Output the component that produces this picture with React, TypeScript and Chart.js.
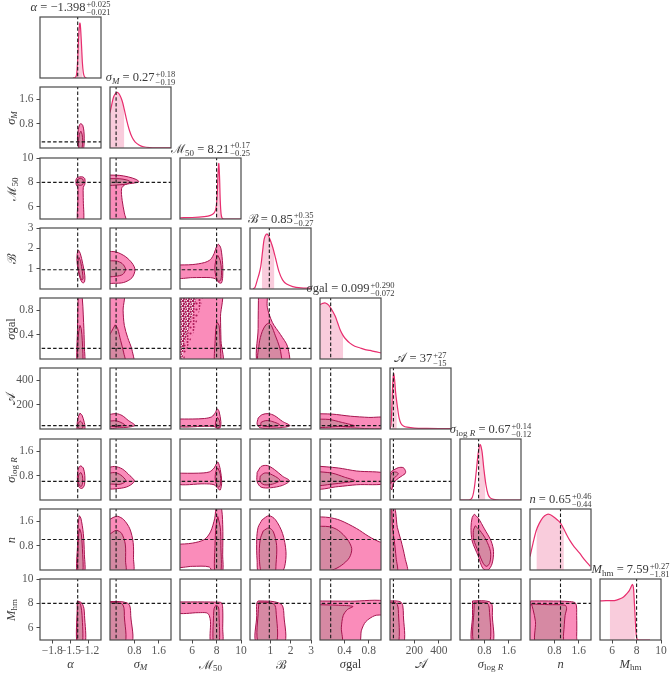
import React, { useEffect, useRef } from 'react';
import { Chart, registerables } from 'chart.js';

Chart.register(...registerables);

type Pt = [number, number];

const FONT = "'Liberation Serif', 'DejaVu Serif', serif";
const FRAME = '#4a4a4a';
const TICK_COLOR = '#555555';
const TEXT = '#3a3a3a';
const OUTER_FILL = 'rgb(250,140,186)';
const INNER_FILL = 'rgb(214,137,163)';
const CONTOUR_LINE = 'rgb(165,20,78)';
const HIST_LINE = 'rgb(232,45,110)';
const HIST_FILL = 'rgb(249,204,220)';
const TRUTH_COLOR = '#1a1a1a';
const DOT_COLOR = 'rgb(172,28,88)';

// parameter order: alpha, sigma_M, M50, B, sigma_gal, A, sigma_logR, n, M_hm
const RANGES: number[][] = [[-2, -1], [0, 2], [5, 10], [0, 3], [0, 1], [0, 500], [0, 2], [0, 2], [5, 10]];
const TRUTHS = [-1.382, 0.2, 8.0, 0.95, 0.175, 28, 0.61, 1.0, 8.0];
const TICK_VALUES = [[-1.8, -1.5, -1.2], [0.8, 1.6], [6, 8, 10], [1, 2, 3], [0.4, 0.8], [200, 400], [0.8, 1.6], [0.8, 1.6], [6, 8, 10]];
const TICK_LABELS = [['−1.8', '−1.5', '−1.2'], ['0.8', '1.6'], ['6', '8', '10'], ['1', '2', '3'], ['0.4', '0.8'], ['200', '400'], ['0.8', '1.6'], ['0.8', '1.6'], ['6', '8', '10']];
const TITLE_VALUES = ['−1.398', '0.27', '8.21', '0.85', '0.099', '37', '0.67', '0.65', '7.59'];
const TITLE_PLUS = ['+0.025', '+0.18', '+0.17', '+0.35', '+0.290', '+27', '+0.14', '+0.46', '+0.27'];
const TITLE_MINUS = ['−0.021', '−0.19', '−0.25', '−0.27', '−0.072', '−15', '−0.12', '−0.44', '−1.81'];

// 1D marginal curves (normalised height) and shaded credible regions
const DIAG_CURVES: Pt[][] = [
  [[-1.46, 0], [-1.42, 0.01], [-1.40, 0.06], [-1.385, 0.25], [-1.37, 0.6], [-1.355, 0.85], [-1.345, 0.9], [-1.335, 0.82], [-1.32, 0.55], [-1.305, 0.25], [-1.29, 0.09], [-1.275, 0.03], [-1.26, 0.01], [-1.24, 0]],
  [[0, 0.58], [0.06, 0.72], [0.12, 0.84], [0.19, 0.9], [0.25, 0.91], [0.32, 0.87], [0.4, 0.77], [0.47, 0.63], [0.55, 0.45], [0.63, 0.3], [0.72, 0.18], [0.82, 0.1], [0.95, 0.05], [1.1, 0.02], [1.3, 0.008], [1.6, 0.004], [2.0, 0.003]],
  [[5, 0.02], [6, 0.025], [7, 0.04], [7.5, 0.06], [7.8, 0.1], [7.95, 0.18], [8.05, 0.4], [8.12, 0.75], [8.18, 0.91], [8.24, 0.7], [8.3, 0.3], [8.37, 0.08], [8.45, 0.015], [8.6, 0], [10, 0]],
  [[0.15, 0], [0.25, 0.03], [0.36, 0.15], [0.45, 0.25], [0.53, 0.37], [0.62, 0.62], [0.7, 0.82], [0.8, 0.9], [0.88, 0.89], [1.0, 0.8], [1.12, 0.68], [1.26, 0.5], [1.43, 0.28], [1.6, 0.15], [1.8, 0.08], [2.1, 0.04], [2.5, 0.02], [3.0, 0.01]],
  [[0, 0.89], [0.04, 0.91], [0.08, 0.92], [0.12, 0.9], [0.16, 0.86], [0.21, 0.78], [0.25, 0.7], [0.29, 0.59], [0.33, 0.48], [0.37, 0.4], [0.41, 0.34], [0.49, 0.26], [0.57, 0.21], [0.66, 0.18], [0.74, 0.155], [0.82, 0.14], [0.9, 0.12], [1.0, 0.1]],
  [[0, 0], [8, 0.06], [15, 0.35], [22, 0.72], [30, 0.91], [38, 0.8], [46, 0.6], [55, 0.45], [65, 0.3], [75, 0.18], [90, 0.09], [110, 0.05], [140, 0.03], [200, 0.015], [300, 0.01], [500, 0.005]],
  [[0, 0], [0.3, 0], [0.4, 0.04], [0.47, 0.2], [0.54, 0.5], [0.6, 0.78], [0.66, 0.91], [0.72, 0.8], [0.78, 0.52], [0.85, 0.25], [0.92, 0.09], [1.0, 0.03], [1.1, 0.01], [1.3, 0], [2.0, 0]],
  [[0, 0.22], [0.1, 0.44], [0.2, 0.64], [0.3, 0.76], [0.42, 0.86], [0.55, 0.91], [0.65, 0.91], [0.78, 0.87], [0.9, 0.82], [1.0, 0.77], [1.1, 0.68], [1.18, 0.6], [1.3, 0.49], [1.45, 0.38], [1.62, 0.28], [1.8, 0.16], [1.98, 0.06]],
  [[5, 0.64], [5.5, 0.645], [6.0, 0.645], [6.35, 0.655], [6.7, 0.68], [6.95, 0.71], [7.2, 0.76], [7.4, 0.81], [7.57, 0.88], [7.66, 0.91], [7.74, 0.86], [7.82, 0.6], [7.9, 0.3], [7.97, 0.08], [8.05, 0.01], [8.2, 0], [9.1, 0]],
];
const DIAG_SHADES: Pt[][] = [
  [[-1.40, 0.06], [-1.385, 0.25], [-1.37, 0.6], [-1.355, 0.85], [-1.345, 0.9], [-1.335, 0.82], [-1.32, 0.55], [-1.30, 0.2]],
  [[0, 0.58], [0.06, 0.72], [0.12, 0.84], [0.19, 0.9], [0.25, 0.91], [0.32, 0.87], [0.4, 0.77], [0.47, 0.63]],
  [[7.96, 0.19], [8.05, 0.4], [8.12, 0.75], [8.18, 0.91], [8.24, 0.7], [8.3, 0.3], [8.38, 0.06]],
  [[0.58, 0.5], [0.62, 0.62], [0.7, 0.82], [0.8, 0.9], [0.88, 0.89], [1.0, 0.8], [1.12, 0.68], [1.2, 0.57]],
  [[0, 0.89], [0.04, 0.91], [0.08, 0.92], [0.12, 0.9], [0.16, 0.86], [0.21, 0.78], [0.25, 0.7], [0.29, 0.59], [0.33, 0.48], [0.38, 0.39]],
  [[15, 0.35], [22, 0.72], [30, 0.91], [38, 0.8], [46, 0.6], [56, 0.43]],
  [[0.6, 0.78], [0.66, 0.91], [0.72, 0.8], [0.78, 0.52], [0.83, 0.33]],
  [[0.21, 0.65], [0.3, 0.76], [0.42, 0.86], [0.55, 0.91], [0.65, 0.91], [0.78, 0.87], [0.9, 0.82], [1.0, 0.77], [1.11, 0.67]],
  [[5.8, 0.645], [6.0, 0.645], [6.35, 0.655], [6.7, 0.68], [6.95, 0.71], [7.2, 0.76], [7.4, 0.81], [7.57, 0.88], [7.66, 0.91], [7.74, 0.86], [7.82, 0.6], [7.86, 0.45]],
];

// 2D contours (outer = 2 sigma, inner = 1 sigma), one entry per column of each row
type Contour = { outer: Pt[]; inner: Pt[] };
const ROW1_CONTOURS: Contour[] = [
  { outer: [[-1.33, 0.8], [-1.30, 0.75], [-1.28, 0.55], [-1.275, 0.3], [-1.28, 0.05], [-1.30, -0.1], [-1.34, -0.1], [-1.37, 0.05], [-1.387, 0.3], [-1.372, 0.6], [-1.35, 0.77]],
    inner: [[-1.33, 0.55], [-1.31, 0.45], [-1.30, 0.25], [-1.31, 0.0], [-1.33, -0.1], [-1.36, 0.0], [-1.368, 0.2], [-1.355, 0.45]] },
];
const ROW2_CONTOURS: Contour[] = [
  { outer: [[-1.35, 8.45], [-1.30, 8.45], [-1.265, 8.3], [-1.265, 7.85], [-1.29, 7.6], [-1.29, 6.5], [-1.29, 4.7], [-1.38, 4.7], [-1.38, 6.5], [-1.38, 7.6], [-1.405, 7.8], [-1.41, 8.2], [-1.39, 8.4]],
    inner: [[-1.34, 8.33], [-1.30, 8.27], [-1.29, 8.05], [-1.30, 7.82], [-1.34, 7.76], [-1.38, 7.82], [-1.39, 8.05], [-1.375, 8.27]] },
  { outer: [[-0.1, 8.6], [0.3, 8.58], [0.6, 8.45], [0.85, 8.25], [0.95, 8.05], [0.8, 7.95], [0.5, 7.82], [0.38, 7.5], [0.4, 6.5], [0.47, 5.5], [0.52, 4.7], [-0.1, 4.7]],
    inner: [[-0.1, 8.3], [0.3, 8.3], [0.55, 8.2], [0.66, 8.05], [0.55, 7.87], [0.3, 7.8], [-0.1, 7.8]] },
];
const ROW3_CONTOURS: Contour[] = [
  { outer: [[-1.37, 1.92], [-1.34, 1.75], [-1.30, 1.25], [-1.265, 0.65], [-1.27, 0.35], [-1.30, 0.3], [-1.34, 0.5], [-1.38, 1.0], [-1.395, 1.5], [-1.385, 1.82]],
    inner: [[-1.36, 1.55], [-1.335, 1.35], [-1.305, 0.85], [-1.295, 0.5], [-1.315, 0.45], [-1.35, 0.7], [-1.375, 1.1], [-1.375, 1.42]] },
  { outer: [[-0.1, 1.85], [0.2, 1.82], [0.5, 1.6], [0.72, 1.28], [0.82, 0.95], [0.72, 0.55], [0.45, 0.32], [0.1, 0.28], [-0.1, 0.3]],
    inner: [[-0.1, 1.38], [0.2, 1.38], [0.4, 1.25], [0.51, 0.98], [0.42, 0.72], [0.2, 0.63], [-0.1, 0.65]] },
  { outer: [[4.7, 1.18], [6, 1.2], [7, 1.3], [7.5, 1.45], [7.8, 1.75], [8.0, 2.1], [8.15, 2.2], [8.35, 2.0], [8.5, 1.2], [8.5, 0.6], [8.4, 0.3], [8.2, 0.31], [7.9, 0.5], [7.5, 0.56], [6, 0.56], [4.7, 0.56]],
    inner: [[8.1, 1.65], [8.3, 1.4], [8.4, 0.9], [8.35, 0.45], [8.15, 0.38], [7.95, 0.6], [7.85, 1.0], [7.95, 1.45]] },
];
const ROW4_CONTOURS: Contour[] = [
  { outer: [[-1.37, 1.1], [-1.32, 1.1], [-1.285, 0.6], [-1.273, 0.2], [-1.273, -0.1], [-1.385, -0.1], [-1.385, 0.5], [-1.378, 0.9]],
    inner: [[-1.345, 0.55], [-1.325, 0.5], [-1.307, 0.3], [-1.303, -0.1], [-1.38, -0.1], [-1.38, 0.25], [-1.365, 0.45]] },
  { outer: [[-0.1, 1.1], [0.45, 1.1], [0.43, 0.8], [0.47, 0.55], [0.58, 0.35], [0.72, 0.15], [0.76, -0.1], [-0.1, -0.1]],
    inner: [[0.17, 0.56], [0.25, 0.5], [0.35, 0.3], [0.45, 0.1], [0.5, -0.1], [-0.1, -0.1], [-0.1, 0.3], [0.05, 0.45]] },
  { outer: [[4.7, 1.1], [8.33, 1.1], [8.32, 0.7], [8.36, 0.3], [8.4, -0.1], [4.7, -0.1]],
    inner: [[8.05, 0.6], [8.2, 0.55], [8.28, 0.3], [8.3, -0.1], [7.85, -0.1], [7.88, 0.3], [7.95, 0.52]] },
  { outer: [[0.42, 1.1], [0.82, 1.1], [0.85, 0.85], [1.1, 0.6], [1.5, 0.4], [1.85, 0.2], [1.88, -0.1], [0.42, -0.1], [0.40, 0.5]],
    inner: [[0.93, 0.59], [1.05, 0.55], [1.25, 0.38], [1.45, 0.2], [1.54, 0.05], [1.55, -0.1], [0.44, -0.1], [0.45, 0.25], [0.6, 0.45], [0.78, 0.56]] },
];
const ROW5_CONTOURS: Contour[] = [
  { outer: [[-1.345, 130], [-1.31, 112], [-1.275, 55], [-1.262, 20], [-1.275, -10], [-1.385, -10], [-1.392, 30], [-1.378, 90]],
    inner: [[-1.34, 65], [-1.31, 52], [-1.295, 25], [-1.305, 5], [-1.36, 3], [-1.385, 25], [-1.37, 50]] },
  { outer: [[-0.1, 115], [0.2, 126], [0.4, 110], [0.6, 70], [0.82, 30], [0.6, 15], [0.3, 10], [-0.1, 10]],
    inner: [[-0.1, 62], [0.15, 68], [0.3, 60], [0.49, 32], [0.3, 22], [0.1, 20], [-0.1, 22]] },
  { outer: [[4.7, 82], [6, 82], [7, 86], [7.6, 100], [7.9, 135], [8.05, 165], [8.2, 145], [8.35, 60], [8.3, 12], [8.1, 3], [7.8, 20], [7, 22], [4.7, 22]],
    inner: [[8.08, 95], [8.22, 70], [8.28, 30], [8.2, 10], [8.0, 10], [7.9, 30], [7.95, 70]] },
  { outer: [[0.4, 90], [0.6, 118], [0.9, 126], [1.2, 110], [1.6, 62], [1.96, 28], [1.6, 12], [1.0, 6], [0.5, 10], [0.35, 40]],
    inner: [[0.55, 55], [0.75, 68], [1.0, 66], [1.46, 35], [1.1, 22], [0.7, 22], [0.53, 35]] },
  { outer: [[-0.1, 125], [0.2, 122], [0.5, 105], [0.8, 95], [1.1, 90], [1.1, 10], [0.5, 8], [-0.1, 5]],
    inner: [[-0.1, 80], [0.15, 78], [0.35, 55], [0.57, 25], [0.3, 20], [-0.1, 18]] },
];
const ROW6_CONTOURS: Contour[] = [
  { outer: [[-1.33, 1.12], [-1.29, 1.05], [-1.265, 0.8], [-1.27, 0.5], [-1.31, 0.38], [-1.36, 0.42], [-1.385, 0.6], [-1.383, 0.9], [-1.36, 1.08]],
    inner: [[-1.33, 0.9], [-1.305, 0.8], [-1.30, 0.6], [-1.32, 0.45], [-1.355, 0.48], [-1.375, 0.65], [-1.36, 0.85]] },
  { outer: [[-0.1, 1.05], [0.15, 1.1], [0.4, 1.02], [0.65, 0.8], [0.8, 0.62], [0.6, 0.45], [0.3, 0.38], [-0.1, 0.4]],
    inner: [[-0.1, 0.86], [0.15, 0.9], [0.35, 0.82], [0.52, 0.63], [0.35, 0.52], [0.1, 0.52], [-0.1, 0.55]] },
  { outer: [[4.7, 0.88], [6.5, 0.88], [7.4, 0.92], [7.8, 1.05], [8.0, 1.2], [8.12, 1.24], [8.3, 1.0], [8.42, 0.6], [8.3, 0.33], [8.1, 0.38], [7.8, 0.5], [7, 0.53], [4.7, 0.53]],
    inner: [[8.1, 1.05], [8.3, 0.85], [8.33, 0.55], [8.2, 0.42], [8.0, 0.5], [7.88, 0.72], [7.95, 0.95]] },
  { outer: [[0.35, 0.9], [0.55, 1.1], [0.85, 1.13], [1.2, 1.0], [1.6, 0.78], [1.94, 0.63], [1.6, 0.48], [1.0, 0.4], [0.55, 0.42], [0.35, 0.6]],
    inner: [[0.5, 0.78], [0.7, 0.88], [0.95, 0.87], [1.47, 0.65], [1.1, 0.52], [0.7, 0.5], [0.5, 0.6]] },
  { outer: [[-0.1, 1.12], [0.3, 1.05], [0.6, 0.95], [1.1, 0.86], [1.1, 0.55], [0.6, 0.5], [0.3, 0.44], [-0.1, 0.39]],
    inner: [[-0.1, 0.94], [0.2, 0.88], [0.4, 0.75], [0.57, 0.63], [0.4, 0.57], [0.2, 0.52], [-0.1, 0.5]] },
  { outer: [[14, 0.33], [33, 0.58], [82, 0.75], [123, 0.86], [128, 0.94], [109, 1.06], [68, 1.06], [33, 0.99], [5, 0.91], [-10, 0.7], [-5, 0.45]],
    inner: [[5, 0.53], [22, 0.66], [55, 0.8], [68, 0.86], [55, 0.91], [22, 0.91], [5, 0.8]] },
];
const ROW7_CONTOURS: Contour[] = [
  { outer: [[-1.355, 1.78], [-1.33, 1.7], [-1.29, 1.2], [-1.272, 0.5], [-1.272, -0.1], [-1.39, -0.1], [-1.385, 0.8], [-1.375, 1.5]],
    inner: [[-1.35, 1.35], [-1.325, 1.2], [-1.305, 0.7], [-1.30, -0.1], [-1.375, -0.1], [-1.375, 0.8], [-1.365, 1.2]] },
  { outer: [[-0.1, 1.6], [0.1, 1.72], [0.25, 1.76], [0.45, 1.65], [0.65, 1.35], [0.76, 0.9], [0.77, 0.4], [0.74, -0.1], [-0.1, -0.1]],
    inner: [[-0.1, 1.1], [0.1, 1.25], [0.22, 1.3], [0.38, 1.2], [0.5, 0.85], [0.51, 0.3], [0.5, -0.1], [-0.1, -0.1]] },
  { outer: [[4.7, 0.84], [6, 0.88], [7, 1.0], [7.5, 1.25], [7.85, 1.7], [8.0, 2.1], [8.35, 2.1], [8.5, 1.5], [8.5, 0.5], [8.45, -0.1], [7.7, -0.1], [7.4, 0.1], [6, 0.12], [4.7, 0.12]],
    inner: [[8.1, 1.75], [8.3, 1.4], [8.35, 0.8], [8.33, -0.1], [7.87, -0.1], [7.87, 0.8], [7.95, 1.45]] },
  { outer: [[0.6, 1.65], [0.93, 1.78], [1.25, 1.65], [1.6, 1.2], [1.77, 0.6], [1.7, 0.1], [1.5, -0.1], [0.45, -0.1], [0.35, 0.3], [0.33, 1.0], [0.4, 1.4]],
    inner: [[0.65, 1.28], [0.93, 1.38], [1.15, 1.25], [1.31, 0.8], [1.28, 0.2], [1.2, -0.1], [0.6, -0.1], [0.46, 0.4], [0.5, 1.0]] },
  { outer: [[-0.1, 1.75], [0.15, 1.72], [0.33, 1.63], [0.6, 1.36], [0.8, 1.1], [0.98, 0.92], [1.1, 0.88], [1.1, -0.1], [-0.1, -0.1]],
    inner: [[-0.1, 1.43], [0.15, 1.42], [0.3, 1.3], [0.45, 1.0], [0.52, 0.7], [0.48, 0.4], [0.35, 0.15], [0.2, 0.0], [-0.1, -0.1]] },
  { outer: [[-10, 2.1], [35, 2.1], [60, 1.4], [90, 0.97], [123, 0.4], [140, -0.1], [-10, -0.1]],
    inner: [[-10, 2.1], [10, 2.1], [20, 1.4], [35, 0.97], [50, 0.4], [60, -0.1], [-10, -0.1]] },
  { outer: [[0.47, 1.83], [0.6, 1.7], [0.8, 1.35], [1.02, 0.95], [1.1, 0.6], [1.05, 0.2], [0.92, 0.0], [0.75, 0.05], [0.6, 0.45], [0.4, 0.95], [0.36, 1.4], [0.4, 1.72]],
    inner: [[0.5, 1.45], [0.65, 1.3], [0.85, 1.0], [1.0, 0.6], [0.98, 0.25], [0.88, 0.12], [0.77, 0.2], [0.6, 0.6], [0.45, 1.0], [0.44, 1.3]] },
];
const ROW8_CONTOURS: Contour[] = [
  { outer: [[-1.388, 8.18], [-1.33, 8.1], [-1.30, 7.9], [-1.28, 7.6], [-1.27, 7], [-1.26, 4.7], [-1.39, 4.7], [-1.39, 7.5], [-1.39, 8.1]],
    inner: [[-1.385, 8.1], [-1.35, 8.05], [-1.33, 7.8], [-1.31, 7.0], [-1.305, 4.7], [-1.385, 4.7], [-1.385, 7.8]] },
  { outer: [[-0.1, 8.15], [0.3, 8.15], [0.55, 8.05], [0.65, 7.8], [0.68, 7.0], [0.7, 4.7], [-0.1, 4.7]],
    inner: [[-0.1, 8.05], [0.25, 8.05], [0.4, 7.95], [0.46, 7.6], [0.47, 7.0], [0.48, 4.7], [-0.1, 4.7]] },
  { outer: [[4.7, 8.12], [7, 8.12], [8.0, 8.1], [8.4, 8.05], [8.5, 7.6], [8.5, 6], [8.45, 4.7], [7.55, 4.7], [7.5, 6.5], [7.4, 7.0], [7.2, 7.22], [6.5, 7.24], [4.7, 7.24]],
    inner: [[7.95, 7.85], [8.15, 7.7], [8.2, 7], [8.2, 4.7], [7.75, 4.7], [7.75, 7], [7.8, 7.6]] },
  { outer: [[0.4, 8.2], [1.0, 8.18], [1.4, 8.05], [1.6, 7.8], [1.67, 7.0], [1.67, 4.7], [0.33, 4.7], [0.33, 7.0], [0.33, 8.0]],
    inner: [[0.45, 8.1], [0.9, 8.08], [1.2, 7.9], [1.28, 7.4], [1.28, 4.7], [0.42, 4.7], [0.41, 7.5]] },
  { outer: [[-0.1, 8.2], [0.5, 8.18], [1.1, 8.15], [1.1, 7.15], [0.9, 7.0], [0.75, 6.5], [0.68, 5.8], [0.63, 4.7], [-0.1, 4.7]],
    inner: [[-0.1, 7.9], [0.3, 7.85], [0.54, 7.75], [0.45, 7.5], [0.38, 7.0], [0.35, 6], [0.35, 4.7], [-0.1, 4.7]] },
  { outer: [[-10, 8.2], [50, 8.2], [90, 8.1], [105, 7.8], [110, 7.0], [110, 4.7], [-10, 4.7]],
    inner: [[-10, 8.08], [40, 8.08], [60, 7.9], [68, 7.5], [68, 4.7], [-10, 4.7]] },
  { outer: [[0.41, 8.2], [0.7, 8.22], [0.95, 8.15], [1.05, 7.9], [1.06, 7], [1.06, 4.7], [0.41, 4.7], [0.41, 7.0], [0.41, 8.0]],
    inner: [[0.47, 8.1], [0.7, 8.1], [0.9, 8.0], [0.96, 7.6], [0.96, 4.7], [0.46, 4.7], [0.46, 7.6]] },
  { outer: [[0.02, 8.2], [0.6, 8.2], [1.3, 8.15], [1.5, 8.0], [1.53, 7.0], [1.53, 5.3], [1.5, 4.7], [0.02, 4.7]],
    inner: [[0.05, 7.95], [0.6, 7.9], [1.15, 7.85], [1.2, 7.6], [1.15, 7.0], [1.1, 5.5], [1.05, 4.7], [0.2, 4.7], [0.18, 6.5], [0.1, 7.5]] },
];
// scattered samples outside the outer contour in the (M50, sigma_gal) panel
const DOTS_DENSE: Pt[] = [[4.7, 1.1], [6.3, 1.1], [6.1, 0.8], [5.7, 0.5], [5.3, 0.2], [5.1, -0.1], [4.7, -0.1]];
const DOTS_SPARSE: Pt[] = [[4.7, 1.1], [6.9, 1.1], [6.6, 0.8], [6.3, 0.55], [5.85, 0.3], [5.4, 0.05], [5.3, -0.1], [4.7, -0.1]];

const CONTOURS_BY_ROW: Contour[][] = [[], ROW1_CONTOURS, ROW2_CONTOURS, ROW3_CONTOURS, ROW4_CONTOURS, ROW5_CONTOURS, ROW6_CONTOURS, ROW7_CONTOURS, ROW8_CONTOURS];

const sub = (c: React.ReactNode) => <sub style={{ fontSize: '0.72em', verticalAlign: '-0.3em', lineHeight: 0 }}>{c}</sub>;
const LABELS: React.ReactNode[] = [
  <i>α</i>,
  <><i>σ</i>{sub(<i>M</i>)}</>,
  <>ℳ{sub('50')}</>,
  <>ℬ</>,
  <><i>σ</i>gal</>,
  <>𝒜</>,
  <><i>σ</i>{sub(<>log <i>R</i></>)}</>,
  <i>n</i>,
  <><i>M</i>{sub('hm')}</>,
];

const PANEL = 61;
const colLeft = (j: number) => 40 + 70 * j;
const rowTop = (i: number) => Math.round(17 + 70.25 * i);

const toXY = (pts: Pt[], close = false) => {
  const d = pts.map(([x, y]) => ({ x, y }));
  if (close) d.push({ ...d[0] });
  return d;
};

const framePlugin = {
  id: 'frame',
  afterDatasetsDraw(chart: any) {
    const { ctx, chartArea: a } = chart;
    ctx.save();
    ctx.strokeStyle = FRAME;
    ctx.lineWidth = 1.2;
    ctx.strokeRect(a.left, a.top, a.right - a.left, a.bottom - a.top);
    ctx.restore();
  },
};

function scaleOpts(param: number | null, isX: boolean, showTicks: boolean, size: number) {
  const [min, max] = param === null ? [0, 1] : RANGES[param];
  return {
    type: 'linear', min, max, position: isX ? 'bottom' : 'left',
    grid: { display: showTicks, drawOnChartArea: false, drawTicks: true, tickLength: 3.5, color: FRAME, lineWidth: 1 },
    border: { display: false },
    ticks: {
      display: showTicks, autoSkip: false, maxRotation: 0, minRotation: 0, padding: isX ? 1 : 3,
      color: TICK_COLOR, font: { family: FONT, size: 11.5 },
      callback: (_v: number, idx: number) => (param === null ? '' : TICK_LABELS[param][idx]),
    },
    afterBuildTicks: (s: any) => { s.ticks = (param === null ? [] : TICK_VALUES[param]).map((v) => ({ value: v })); },
    afterFit: (s: any) => {
      if (isX) s.height = size; else s.width = size;
      s.paddingLeft = 0; s.paddingRight = 0; s.paddingTop = 0; s.paddingBottom = 0;
    },
  };
}

function dotPattern(withBg: boolean, size: number, tile: number[][]) {
  const c = document.createElement('canvas');
  c.width = size; c.height = size;
  const g = c.getContext('2d')!;
  if (withBg) { g.fillStyle = '#ffffff'; g.fillRect(0, 0, size, size); }
  g.fillStyle = DOT_COLOR;
  for (const [x, y, r] of tile) { g.beginPath(); g.arc(x, y, r, 0, Math.PI * 2); g.fill(); }
  return g.createPattern(c, 'repeat');
}

const dashed = (pts: Pt[]) => ({
  data: toXY(pts), showLine: true, pointRadius: 0, borderColor: TRUTH_COLOR, borderWidth: 1.1,
  borderDash: [3.5, 2.2], fill: false, tension: 0, clip: 0,
});
const region = (pts: Pt[], bg: any, line: string, lw: number) => ({
  data: toXY(pts, true), showLine: true, pointRadius: 0, borderColor: line, borderWidth: lw,
  backgroundColor: bg, fill: 'shape', tension: 0.3, clip: 0,
});

function buildConfig(i: number, j: number, pad: { l: number; t: number; r: number; b: number }) {
  let datasets: any[];
  const isDiag = i === j;
  if (isDiag) {
    datasets = [
      dashed([[TRUTHS[i], -1], [TRUTHS[i], 2]]),
      { data: toXY(DIAG_CURVES[i]), showLine: true, pointRadius: 0, borderColor: HIST_LINE, borderWidth: 1.2, fill: false, tension: 0.3, clip: 0 },
      { data: toXY(DIAG_SHADES[i]), showLine: true, pointRadius: 0, borderWidth: 0, borderColor: 'rgba(0,0,0,0)', backgroundColor: HIST_FILL, fill: 'origin', tension: 0.3, clip: 0 },
    ];
  } else {
    const [x0, x1] = RANGES[j];
    const [y0, y1] = RANGES[i];
    const dx = x1 - x0, dy = y1 - y0;
    const c = CONTOURS_BY_ROW[i][j];
    const extra: any[] = [];
    if (i === 4 && j === 2) {
      extra.push(region(DOTS_DENSE, dotPattern(true, 5, [[1, 1, 1.25], [3.6, 1.8, 1.2], [1.9, 3.7, 1.25], [4.4, 4.3, 1.1]]), 'rgba(0,0,0,0)', 0));
      extra.push(region(DOTS_SPARSE, dotPattern(false, 6, [[1.5, 1.5, 1.1], [4.5, 4, 1.1], [4.8, 1.0, 0.9]]), 'rgba(0,0,0,0)', 0));
    }
    datasets = [
      dashed([[TRUTHS[j], y0 - dy], [TRUTHS[j], y1 + dy]]),
      dashed([[x0 - dx, TRUTHS[i]], [x1 + dx, TRUTHS[i]]]),
      region(c.inner, INNER_FILL, CONTOUR_LINE, 1),
      ...extra,
      region(c.outer, OUTER_FILL, CONTOUR_LINE, 1),
    ];
  }
  return {
    type: 'scatter',
    data: { datasets },
    options: {
      responsive: false, animation: false, devicePixelRatio: 1, events: [],
      layout: { padding: { left: 0, top: pad.t, right: pad.r, bottom: 0 } },
      elements: { line: { capBezierPoints: false } },
      plugins: { legend: { display: false }, tooltip: { enabled: false }, filler: { propagate: false } },
      scales: {
        x: scaleOpts(j, true, i === 8, pad.b),
        y: scaleOpts(isDiag ? null : i, false, j === 0 && !isDiag, pad.l),
      },
    },
    plugins: [framePlugin],
  } as any;
}

function Panel({ i, j }: { i: number; j: number }) {
  const ref = useRef<HTMLCanvasElement>(null);
  const pad = { l: j === 0 && i > 0 ? 40 : 3, t: 8, r: i === 8 ? 14 : 3, b: i === 8 ? 24 : 3 };
  const w = PANEL + pad.l + pad.r;
  const h = PANEL + pad.t + pad.b;
  useEffect(() => {
    const chart = new Chart(ref.current!, buildConfig(i, j, pad));
    return () => chart.destroy();
  }, []);
  return (
    <canvas ref={ref} width={w} height={h}
      style={{ position: 'absolute', left: colLeft(j) - pad.l, top: rowTop(i) - pad.t, width: w, height: h }} />
  );
}

export default function App() {
  const panels: React.ReactNode[] = [];
  for (let i = 0; i < 9; i++) for (let j = 0; j <= i; j++) panels.push(<Panel key={`${i}-${j}`} i={i} j={j} />);
  const textBase: React.CSSProperties = { position: 'absolute', whiteSpace: 'nowrap', fontFamily: FONT, color: TEXT, fontSize: 12.5 };
  return (
    <div style={{ position: 'absolute', left: 0, top: 0, width: 672, height: 673, background: '#fff', overflow: 'hidden' }}>
      {panels}
      {LABELS.map((lab, k) => (
        <div key={`t${k}`} style={{ ...textBase, left: colLeft(k) + PANEL / 2, top: rowTop(k) - 18, height: 17, transform: 'translateX(-50%)', display: 'flex', alignItems: 'center' }}>
          <span>{lab} = {TITLE_VALUES[k]}</span>
          <span style={{ display: 'inline-flex', flexDirection: 'column', fontSize: 8.5, lineHeight: '8px', marginLeft: 1 }}>
            <span>{TITLE_PLUS[k]}</span><span>{TITLE_MINUS[k]}</span>
          </span>
        </div>
      ))}
      {LABELS.map((lab, k) => (
        <div key={`x${k}`} style={{ ...textBase, left: colLeft(k) + PANEL / 2, top: 664, transform: 'translate(-50%,-50%)' }}>{lab}</div>
      ))}
      {LABELS.slice(1).map((lab, k) => (
        <div key={`y${k}`} style={{ ...textBase, left: 11, top: rowTop(k + 1) + PANEL / 2, transform: 'translate(-50%,-50%) rotate(-90deg)' }}>{lab}</div>
      ))}
    </div>
  );
}
